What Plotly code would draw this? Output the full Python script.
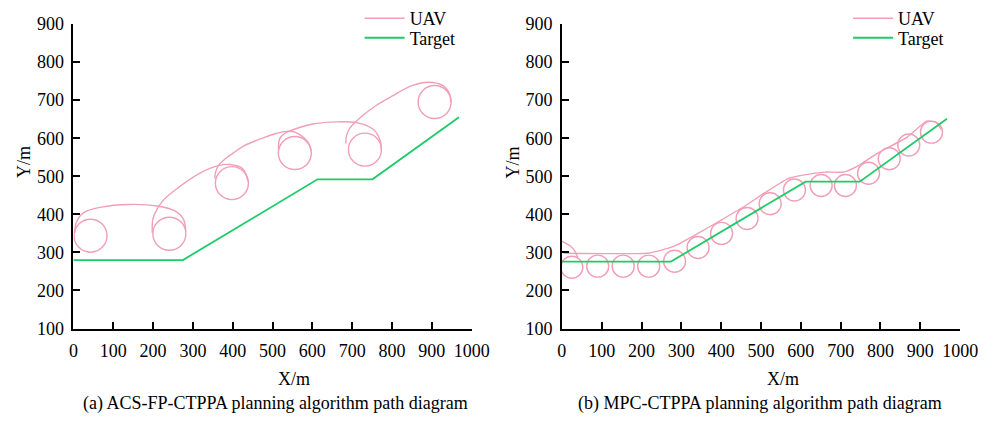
import plotly.graph_objects as go

# ---------------- data ----------------
# (a) ACS-FP-CTPPA
a_target_x = [0, 275, 613, 751, 968]
a_target_y = [280, 280, 492, 492, 655]

# loiter circle centres (UAV)
a_loiter_x = [43, 241, 398, 556, 732, 907]
a_loiter_y = [344, 349, 482, 561, 570, 695]

# transfer arcs between loiter circles (UAV)
a_arc1_x = [4, 7, 25, 70, 139, 210, 255, 276, 282]
a_arc1_y = [352, 378, 404, 419, 426, 422, 409, 388, 355]
a_arc2_x = [198, 200, 211, 225, 253, 319, 364, 392, 425, 438]
a_arc2_y = [352, 390, 415, 436, 462, 509, 528, 531, 520, 488]
a_arc3_x = [355, 357, 364, 380, 401, 425, 454, 482, 511, 535, 556, 572, 589, 597]
a_arc3_y = [494, 511, 528, 545, 561, 578, 592, 603, 613, 618, 616, 607, 590, 566]
a_arc4_x = [515, 518, 531, 548, 605, 662, 711, 752, 770, 773]
a_arc4_y = [570, 599, 613, 621, 638, 643, 641, 624, 595, 570]
a_arc5_x = [684, 686, 695, 719, 760, 801, 850, 891, 928, 945, 947]
a_arc5_y = [586, 608, 628, 653, 686, 711, 738, 747, 738, 715, 695]

# (b) MPC-CTPPA
b_target_x = [0, 274, 612, 748, 967]
b_target_y = [276, 276, 486, 486, 651]

b_loiter_x = [25, 90, 154, 218, 283, 342, 401, 465, 523, 584, 651, 712, 770, 822, 871, 928]
b_loiter_y = [261, 264, 264, 264, 277, 313, 350, 389, 428, 464, 476, 476, 508, 546, 582, 616]

b_entry_x = [0, 20, 33, 40]
b_entry_y = [330, 318, 303, 287]
b_path_x = [4, 216, 250, 285, 335, 400, 460, 507, 568, 605, 662, 707, 745, 793, 867, 916, 940, 952]
b_path_y = [298, 298, 306, 318, 346, 385, 422, 455, 494, 503, 511, 511, 528, 561, 603, 645, 641, 624]

x_ticks = list(range(0, 1001, 100))
y_ticks = list(range(100, 901, 100))

captions = ["(a) ACS-FP-CTPPA planning algorithm path diagram",
            "(b) MPC-CTPPA planning algorithm path diagram"]

# ---------------- styling ----------------
PINK = "#F19FB7"
GREEN = "#1ECB6A"
FONT = "Liberation Serif"
W, H = 997, 425


def join(*segs):
    xs, ys = [], []
    for sx, sy in segs:
        if xs:
            xs.append(None)
            ys.append(None)
        xs += sx
        ys += sy
    return xs, ys


fig = go.Figure()

# ---- (a)
ux, uy = join((a_arc1_x, a_arc1_y), (a_arc2_x, a_arc2_y), (a_arc3_x, a_arc3_y),
              (a_arc4_x, a_arc4_y), (a_arc5_x, a_arc5_y))
fig.add_trace(go.Scatter(x=ux, y=uy, mode="lines", name="UAV",
                         line=dict(color=PINK, width=1.4, shape="spline", smoothing=1.0),
                         connectgaps=False, xaxis="x", yaxis="y", legend="legend"))
fig.add_trace(go.Scatter(x=a_loiter_x, y=a_loiter_y, mode="markers", showlegend=False,
                         marker=dict(symbol="circle-open", size=33, color=PINK,
                                     line=dict(width=1.4, color=PINK)),
                         xaxis="x", yaxis="y"))
fig.add_trace(go.Scatter(x=a_target_x, y=a_target_y, mode="lines", name="Target",
                         line=dict(color=GREEN, width=1.8),
                         xaxis="x", yaxis="y", legend="legend3"))

# ---- (b)
vx, vy = join((b_entry_x, b_entry_y), (b_path_x, b_path_y))
fig.add_trace(go.Scatter(x=vx, y=vy, mode="lines", name="UAV",
                         line=dict(color=PINK, width=1.4, shape="spline", smoothing=0.5),
                         connectgaps=False, xaxis="x2", yaxis="y2", legend="legend2"))
fig.add_trace(go.Scatter(x=b_loiter_x, y=b_loiter_y, mode="markers", showlegend=False,
                         marker=dict(symbol="circle-open", size=22, color=PINK,
                                     line=dict(width=1.4, color=PINK)),
                         xaxis="x2", yaxis="y2"))
fig.add_trace(go.Scatter(x=b_target_x, y=b_target_y, mode="lines", name="Target",
                         line=dict(color=GREEN, width=1.8),
                         xaxis="x2", yaxis="y2", legend="legend4"))

ydom = [1 - 334.3 / H, 1 - 14.7 / H]
axis_common = dict(showline=True, linecolor="black", linewidth=1.5, ticks="inside",
                   ticklen=7, tickwidth=1.5, tickcolor="black", showgrid=False,
                   zeroline=False, tickfont=dict(family=FONT, size=18, color="black"))


def leg(xpx, ytop):
    return dict(x=xpx / W, y=1 - ytop / H, xanchor="left", yanchor="top",
                bgcolor="rgba(0,0,0,0)", itemwidth=40,
                font=dict(family=FONT, size=18, color="black"))


fig.update_layout(
    width=W, height=H,
    margin=dict(l=0, r=0, t=0, b=0),
    paper_bgcolor="white", plot_bgcolor="white",
    font=dict(family=FONT, color="black"),
    xaxis=dict(domain=[70 / W, 477.7 / W], range=[0, 1000], tickvals=x_ticks,
               anchor="y", ticklabelstandoff=5, **axis_common),
    yaxis=dict(domain=ydom, range=[100, 900], tickvals=y_ticks, anchor="x",
               ticklabelstandoff=4, **axis_common),
    xaxis2=dict(domain=[570 / W, 977.7 / W], range=[0, 1000], tickvals=x_ticks,
                anchor="y2", ticklabelstandoff=5, **axis_common),
    yaxis2=dict(domain=ydom, range=[100, 900], tickvals=y_ticks, anchor="x2",
                ticklabelstandoff=4, **axis_common),
    legend=leg(363, -11),
    legend3=leg(363, 10),
    legend2=leg(863, -11),
    legend4=leg(863, 10),
)

ann = []
for cx in (296, 796):
    ann.append(dict(text="X/m", x=cx / W, y=1 - 387 / H, xref="paper", yref="paper",
                    xanchor="center", yanchor="middle",
                    showarrow=False, font=dict(family=FONT, size=18, color="black")))
for cx in (20, 520):
    ann.append(dict(text="Y/m", x=cx / W, y=1 - 160 / H, xref="paper", yref="paper",
                    xanchor="center", yanchor="middle",
                    showarrow=False, textangle=-90,
                    font=dict(family=FONT, size=18, color="black")))
for cx, cap in zip((277, 773), captions):
    ann.append(dict(text=cap, x=cx / W, y=1 - 413 / H, xref="paper", yref="paper",
                    xanchor="center", yanchor="middle",
                    showarrow=False, font=dict(family=FONT, size=18, color="black")))
fig.update_layout(annotations=ann)

fig.write_html("out.html")
